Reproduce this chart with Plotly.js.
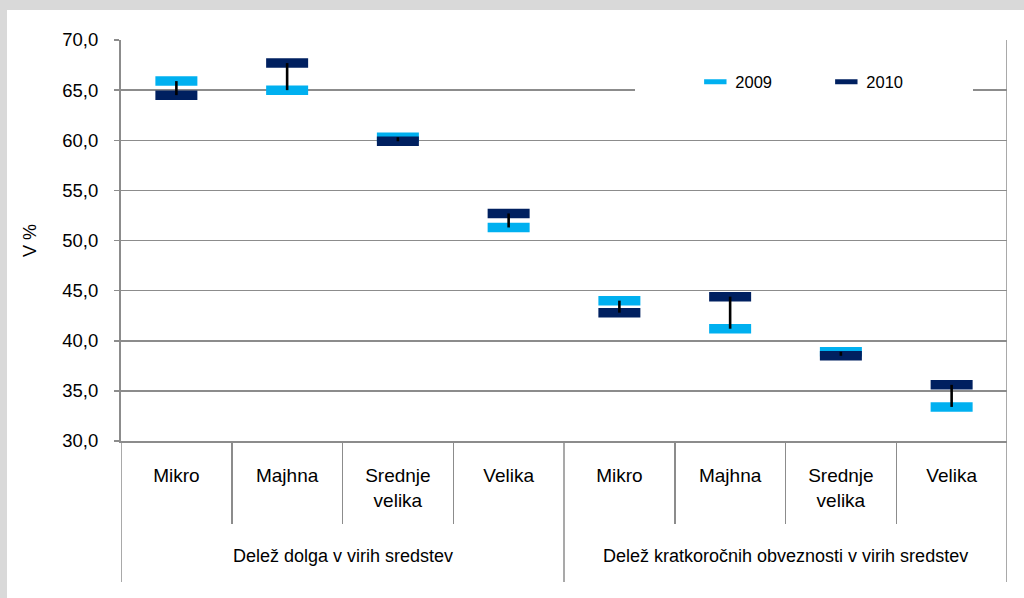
<!DOCTYPE html>
<html><head><meta charset="utf-8">
<script src="https://cdn.plot.ly/plotly-3.0.1.min.js"></script>
<style>
html,body{margin:0;padding:0;background:#d9d9d9;width:1024px;height:598px;overflow:hidden}
#chart{position:absolute;left:7px;top:10px;width:1017px;height:588px;background:#fff}
</style></head><body><div id="chart"></div>
<script>
// ---- data ----
const categories = ["Mikro","Majhna","Srednje<br>velika","Velika","Mikro","Majhna","Srednje<br>velika","Velika"];
const groupOfCategory = [0,0,0,0,1,1,1,1];
const groups = ["Delež dolga v virih sredstev","Delež kratkoročnih obveznosti v virih sredstev"];
const seriesNames = ["2009","2010"];
const values2009 = [65.9,65.0,60.3,51.3,44.0,41.2,38.9,33.4];
const values2010 = [64.5,67.7,59.9,52.7,42.8,44.4,38.5,35.6];
const yTicks = [30,35,40,45,50,55,60,65,70];
const yTitle = "V %";

// ---- styles ----
const C2009 = "#00b0f0", C2010 = "#002060", GRID = "#8c8c8c";
const FONT = "Liberation Sans, Arial, sans-serif";

const xIdx = categories.map((_, i) => i);

function markerTrace(name, vals, color, lw) {
  return {
    type: "scatter", mode: "markers", name: name,
    x: xIdx, y: vals, legendwidth: lw,
    marker: {symbol: "line-ew", size: 30, color: color, line: {width: 9.5, color: color}},
    hoverinfo: "skip"
  };
}

// high-low connector lines built from the two series
const hlX = [], hlY = [];
xIdx.forEach(i => { hlX.push(i, i, null); hlY.push(values2009[i], values2010[i], null); });

const traces = [
  markerTrace(seriesNames[0], values2009, C2009, 86),
  markerTrace(seriesNames[1], values2010, C2010, 101),
  {type: "scatter", mode: "lines", x: hlX, y: hlY, showlegend: false, hoverinfo: "skip",
   line: {color: "#000", width: 2.6}}
];

// boundaries between categories within a group, and group boundaries
const innerBounds = [], groupBounds = [-0.5];
for (let i = 0; i < categories.length - 1; i++) {
  if (groupOfCategory[i] === groupOfCategory[i + 1]) innerBounds.push(i + 0.5);
  else groupBounds.push(i + 0.5);
}
groupBounds.push(categories.length - 0.5);

const divBottom = -0.3516;
const shapes = groupBounds.map((b, k) => ({
  type: "line", xref: "x", yref: "paper", x0: b, x1: b,
  y0: (k === groupBounds.length - 1) ? 1 : 0, y1: divBottom,
  line: {color: GRID, width: 1.5}
}));

const annotations = groups.map((g, gi) => {
  const idx = xIdx.filter(i => groupOfCategory[i] === gi);
  const cx = idx.reduce((a, b) => a + b, 0) / idx.length;
  return {text: g, xref: "x", yref: "paper", x: cx, y: -0.2868, yanchor: "middle",
          showarrow: false, font: {family: FONT, size: 18, color: "#000"}};
});

const layout = {
  width: 1017, height: 588,
  margin: {l: 114, r: 17, t: 30, b: 157},
  paper_bgcolor: "#ffffff", plot_bgcolor: "#ffffff",
  separators: ", ",
  font: {family: FONT, color: "#000"},
  showlegend: true,
  legend: {
    orientation: "h", x: 0.58, xanchor: "left", y: 0.895, yanchor: "middle",
    bgcolor: "#ffffff", font: {family: FONT, size: 16.5, color: "#000"},
    title: {text: "\u00a0".repeat(11), side: "left", font: {size: 16.5}}
  },
  xaxis: {
    range: [-0.5, categories.length - 0.5], tickmode: "array",
    tickvals: xIdx, ticktext: categories, ticks: "", showgrid: false, zeroline: false,
    showline: true, linecolor: GRID, linewidth: 2,
    tickfont: {family: FONT, size: 19, color: "#000"}, ticklabelstandoff: 16,
    minor: {tickmode: "array", tickvals: innerBounds, ticks: "outside", ticklen: 81,
            tickcolor: GRID, tickwidth: 1.5, showgrid: false}
  },
  yaxis: {
    range: [30, 70], tickmode: "array", tickvals: yTicks, tickformat: ".1f",
    showline: true, linecolor: GRID, linewidth: 2, ticks: "outside", ticklen: 5,
    tickcolor: GRID, tickwidth: 1.5, gridcolor: GRID, gridwidth: 1.5, zeroline: false,
    tickfont: {family: FONT, size: 18.5, color: "#000"}, ticklabelstandoff: 12,
    title: {text: yTitle, font: {family: FONT, size: 18, color: "#000"}, standoff: 21}
  },
  shapes: shapes,
  annotations: annotations
};

Plotly.newPlot("chart", traces, layout, {displayModeBar: false, staticPlot: true});
</script></body></html>
